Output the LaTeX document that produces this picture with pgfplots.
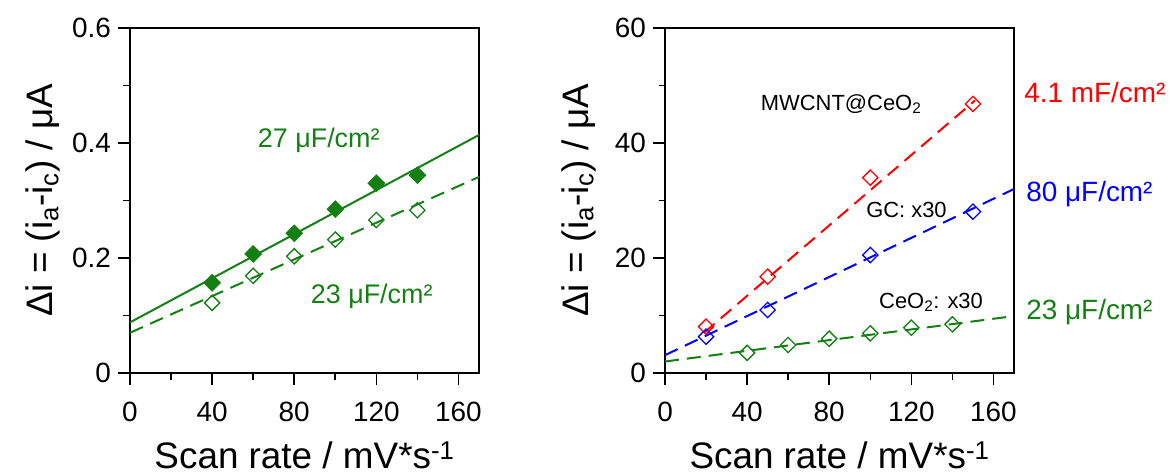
\documentclass[border=0pt]{standalone}
\usepackage{pgfplots}
\pgfplotsset{compat=1.18}
\usepackage{fontspec}
\setmainfont{Liberation Sans}
\definecolor{cgreen}{RGB}{20,128,20}
\definecolor{cred}{RGB}{255,0,0}
\definecolor{cblue}{RGB}{0,0,255}
\tikzset{tk/.style={line width=1.6bp, draw=black, solid}}
\pgfplotsset{
  myax/.style={
    scale only axis, width=349bp, height=345bp, anchor=south west,
    xmin=0, xmax=170, xtick={0,40,...,160}, minor x tick num=1, minor y tick num=1,
    line width=1.8bp,
    tick align=outside,
    xtick pos=left, ytick pos=left,
    major tick length=12bp, minor tick length=6.5bp,
    tick style={line width=1.6bp, draw=black},
    tick label style={font=\fontsize{28}{30}\selectfont},
    xticklabel style={yshift=-13bp},
    yticklabel style={xshift=-3bp},
    /pgf/number format/assume math mode=true,
    label style={font=\fontsize{37}{40}\selectfont},
    xlabel={Scan rate / mV*s\textsuperscript{-1}},
    ylabel={Δi = (i\textsubscript{a}-i\textsubscript{c}) / μA},
    xlabel style={at={(axis description cs:0.5,0)}, anchor=base, yshift=-95bp},
    ylabel style={at={(axis description cs:0,0.5)}, anchor=base, yshift=77bp},
    clip=false,
  },
  fitline/.style={line width=2bp, no marks},
  dashedfit/.style={line width=2bp, no marks, dash pattern=on 14bp off 8bp},
  omark/.style={only marks, mark=square, mark size=5.4bp, mark options={rotate=45, line width=1.3bp, solid, fill=white}},
}
\begin{document}
\begin{tikzpicture}
\path[use as bounding box] (0,0) rectangle (1171bp,474bp);
% Left panel
\begin{axis}[myax, at={(130bp,101bp)}, ymin=0, ymax=0.6, ytick={0,0.2,0.4,0.6}]
\pgfplotsinvokeforeach{0,40,80,120,160}{\draw[tk] (axis cs:#1,0) -- ++(0,-12bp);}
\pgfplotsinvokeforeach{20,60,100,140}{\draw[tk] (axis cs:#1,0) -- ++(0,-6.5bp);}
\pgfplotsinvokeforeach{0,0.2,0.4,0.6}{\draw[tk] (axis cs:0,#1) -- ++(-12bp,0);}
\pgfplotsinvokeforeach{0.1,0.3,0.5}{\draw[tk] (axis cs:0,#1) -- ++(-6.5bp,0);}
\addplot[cgreen, fitline] coordinates {(0,0.088) (170,0.414)};
\addplot[cgreen, dashedfit] coordinates {(0,0.070) (170,0.341)};
\addplot[cgreen, only marks, mark=square*, mark size=5.4bp, mark options={rotate=45, fill=cgreen, solid}]
  coordinates {(40,0.157) (60,0.207) (80,0.243) (100,0.285) (120,0.330) (140,0.344)};
\addplot[cgreen, omark]
  coordinates {(40,0.122) (60,0.169) (80,0.203) (100,0.232) (120,0.266) (140,0.283)};
\node[inner sep=0pt, anchor=base west, text=cgreen, font=\fontsize{27}{30}\selectfont] at (axis cs:61.9,0.393) {27 μF/cm²};
\node[inner sep=0pt, anchor=base west, text=cgreen, font=\fontsize{27}{30}\selectfont] at (axis cs:87.7,0.121) {23 μF/cm²};
\end{axis}
% Right panel
\begin{axis}[myax, at={(665bp,101bp)}, ymin=0, ymax=60, ytick={0,20,40,60}]
\pgfplotsinvokeforeach{0,40,80,120,160}{\draw[tk] (axis cs:#1,0) -- ++(0,-12bp);}
\pgfplotsinvokeforeach{20,60,100,140}{\draw[tk] (axis cs:#1,0) -- ++(0,-6.5bp);}
\pgfplotsinvokeforeach{0,20,40,60}{\draw[tk] (axis cs:0,#1) -- ++(-12bp,0);}
\pgfplotsinvokeforeach{10,30,50}{\draw[tk] (axis cs:0,#1) -- ++(-6.5bp,0);}
\addplot[cred, dashedfit] coordinates {(19,7.0) (151,47.4)};
\addplot[cblue, dashedfit] coordinates {(0,3.1) (170,32.0)};
\addplot[cgreen, dashedfit] coordinates {(0,2.0) (170,9.9)};
\addplot[cred, omark] coordinates {(20,8.05) (50,16.75) (100,33.97) (150,46.8)};
\addplot[cblue, omark] coordinates {(20,6.32) (50,10.96) (100,20.52) (150,28.06)};
\addplot[cgreen, omark] coordinates {(40,3.5) (60,4.87) (80,5.95) (100,6.9) (120,7.88) (140,8.46)};
\node[inner sep=0pt, anchor=base west, font=\fontsize{22}{24}\selectfont] at (axis cs:46.3,45.7) {MWCNT@CeO\textsubscript{2}};
\node[inner sep=0pt, anchor=base west, font=\fontsize{22}{24}\selectfont] at (axis cs:97.6,27.1) {GC: x30};
\node[inner sep=0pt, anchor=base west, font=\fontsize{22}{24}\selectfont] at (axis cs:103.9,11.25) {CeO\textsubscript{2}: x30};
\node[inner sep=0pt, anchor=base west, text=cred, font=\fontsize{28}{30}\selectfont] at (axis cs:174.6,47.0) {4.1 mF/cm²};
\node[inner sep=0pt, anchor=base west, text=cblue, font=\fontsize{28}{30}\selectfont] at (axis cs:175.6,29.8) {80 μF/cm²};
\node[inner sep=0pt, anchor=base west, text=cgreen, font=\fontsize{28}{30}\selectfont] at (axis cs:175.6,9.39) {23 μF/cm²};
\end{axis}
\end{tikzpicture}
\end{document}
